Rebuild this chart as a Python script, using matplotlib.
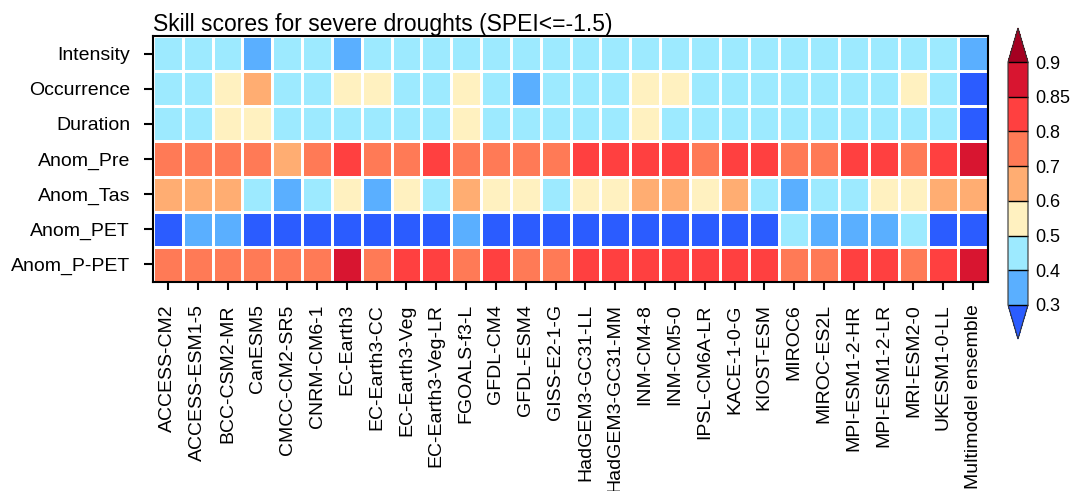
import matplotlib
matplotlib.use("Agg")
import matplotlib.pyplot as plt
import numpy as np
from matplotlib.colors import ListedColormap, BoundaryNorm

plt.rcParams['font.family'] = ['Liberation Sans', 'DejaVu Sans']

models = ["ACCESS-CM2", "ACCESS-ESM1-5", "BCC-CSM2-MR", "CanESM5", "CMCC-CM2-SR5",
          "CNRM-CM6-1", "EC-Earth3", "EC-Earth3-CC", "EC-Earth3-Veg", "EC-Earth3-Veg-LR",
          "FGOALS-f3-L", "GFDL-CM4", "GFDL-ESM4", "GISS-E2-1-G", "HadGEM3-GC31-LL",
          "HadGEM3-GC31-MM", "INM-CM4-8", "INM-CM5-0", "IPSL-CM6A-LR", "KACE-1-0-G",
          "KIOST-ESM", "MIROC6", "MIROC-ES2L", "MPI-ESM1-2-HR", "MPI-ESM1-2-LR",
          "MRI-ESM2-0", "UKESM1-0-LL", "Multimodel ensemble"]
metrics = ["Intensity", "Occurrence", "Duration", "Anom_Pre", "Anom_Tas", "Anom_PET", "Anom_P-PET"]

intensity  = [0.45,0.45,0.45,0.35,0.45,0.45,0.35,0.45,0.45,0.45,0.45,0.45,0.45,0.45,
              0.45,0.45,0.45,0.45,0.45,0.45,0.45,0.45,0.45,0.45,0.45,0.45,0.45,0.35]
occurrence = [0.45,0.45,0.55,0.65,0.45,0.45,0.55,0.55,0.45,0.45,0.55,0.45,0.35,0.45,
              0.45,0.45,0.55,0.55,0.45,0.45,0.45,0.45,0.45,0.45,0.45,0.55,0.45,0.25]
duration   = [0.45,0.45,0.55,0.55,0.45,0.45,0.45,0.45,0.45,0.45,0.55,0.45,0.45,0.45,
              0.45,0.45,0.55,0.45,0.45,0.45,0.45,0.45,0.45,0.45,0.45,0.45,0.45,0.25]
anom_pre   = [0.75,0.75,0.75,0.75,0.65,0.75,0.82,0.75,0.75,0.82,0.75,0.75,0.75,0.75,
              0.82,0.82,0.82,0.82,0.75,0.82,0.82,0.75,0.75,0.82,0.82,0.75,0.82,0.87]
anom_tas   = [0.65,0.65,0.65,0.45,0.35,0.45,0.55,0.35,0.55,0.45,0.65,0.55,0.55,0.45,
              0.55,0.55,0.65,0.65,0.55,0.65,0.45,0.35,0.45,0.45,0.55,0.55,0.65,0.65]
anom_pet   = [0.25,0.35,0.35,0.25,0.25,0.25,0.25,0.25,0.25,0.25,0.35,0.25,0.25,0.25,
              0.25,0.25,0.25,0.25,0.25,0.25,0.25,0.45,0.35,0.35,0.35,0.45,0.25,0.25]
anom_ppet  = [0.75,0.75,0.75,0.75,0.75,0.75,0.87,0.75,0.82,0.82,0.75,0.82,0.75,0.75,
              0.82,0.82,0.82,0.82,0.82,0.82,0.82,0.75,0.75,0.82,0.82,0.75,0.82,0.87]

data = np.array([intensity, occurrence, duration, anom_pre, anom_tas, anom_pet, anom_ppet])

levels = [0.3, 0.4, 0.5, 0.6, 0.7, 0.8, 0.85, 0.9]
level_labels = ["0.3", "0.4", "0.5", "0.6", "0.7", "0.8", "0.85", "0.9"]
colors = ['#5AAFFF', '#9DEAFF', '#FFF1C0', '#FFAD72', '#FF7A56', '#FF4040', '#D81530']
cmap = ListedColormap(colors)
cmap.set_under('#2B5CFF')
cmap.set_over('#A50021')
norm = BoundaryNorm(levels, cmap.N)

fig = plt.figure(figsize=(10.73, 4.91), dpi=100)
ax = fig.add_axes([153/1073, 1 - 282/491, 835/1073, 246/491])

nrow, ncol = data.shape
x = np.arange(ncol + 1)
y = np.arange(nrow + 1)
ax.pcolormesh(x, y, data, cmap=cmap, norm=norm, edgecolors='white', linewidth=1.8)
ax.set_xlim(0, ncol)
ax.set_ylim(nrow, 0)

ax.set_xticks(np.arange(ncol) + 0.5)
ax.set_xticklabels(models, rotation=90, fontsize=14, va='top', ha='center')
ax.set_yticks(np.arange(nrow) + 0.5)
ax.set_yticklabels(metrics, fontsize=14)
ax.tick_params(axis='both', direction='out', length=6.5, width=1.5)
ax.tick_params(axis='y', pad=10)
ax.tick_params(axis='x', length=6, pad=10)
for s in ax.spines.values():
    s.set_linewidth(1.5)

ax.set_title("Skill scores for severe droughts (SPEI<=-1.5)", loc='left', fontsize=16.5, pad=3)

cax = fig.add_axes([1008/1073, 1 - 339/491, 20/1073, 311/491])
cb = fig.colorbar(plt.cm.ScalarMappable(norm=norm, cmap=cmap), cax=cax,
                  extend='both', extendfrac=0.14, spacing='uniform',
                  ticks=levels, drawedges=True)
cb.ax.set_yticklabels(level_labels, fontsize=13)
cb.ax.tick_params(length=0, pad=5)
cb.outline.set_linewidth(0.8)
cb.outline.set_edgecolor('#333333')
cb.dividers.set_linewidth(1.0)
cb.dividers.set_color('black')

fig.savefig("out.png", dpi=100)
